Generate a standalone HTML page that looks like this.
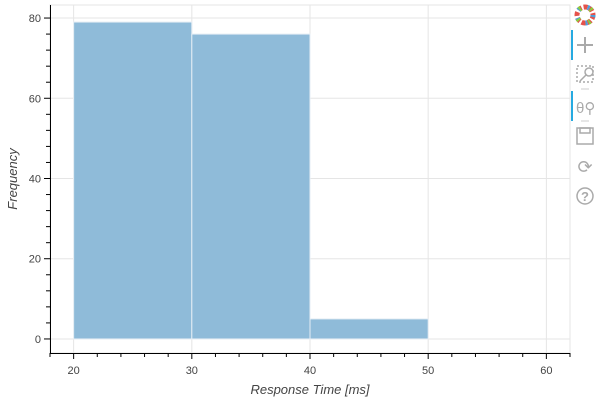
<!DOCTYPE html>
<html><head><meta charset="utf-8"><style>
body{margin:0;background:#fff;width:600px;height:400px;overflow:hidden;font-family:"Liberation Sans",sans-serif}
</style></head><body>
<svg id="chart" width="600" height="400" xmlns="http://www.w3.org/2000/svg">
<g id="gridlayer"></g>
<g id="barlayer"></g>
<g id="axislayer"></g>
<text x="310" y="394" text-anchor="middle" font-size="13" font-style="italic" fill="#444">Response Time [ms]</text>
<text transform="translate(17,179) rotate(-90)" text-anchor="middle" font-size="13" font-style="italic" fill="#444">Frequency</text>
<g>
<line x1="572" y1="30" x2="572" y2="60" stroke="#26aae1" stroke-width="2"/>
<line x1="572" y1="91" x2="572" y2="121" stroke="#26aae1" stroke-width="2"/>
<g transform="translate(585,15)">
<circle r="8" fill="none" stroke="#e5524b" stroke-width="5" stroke-dasharray="4 2"/>
<circle r="8" fill="none" stroke="#4aa1dd" stroke-width="5" stroke-dasharray="2 8"/>
<circle r="8" fill="none" stroke="#8ccf3c" stroke-width="5" stroke-dasharray="2 10" stroke-dashoffset="5"/>
</g>
<g stroke="#aaa" stroke-width="2" fill="none"><line x1="577" y1="45" x2="593" y2="45"/><line x1="585" y1="37" x2="585" y2="53"/></g>
<g stroke="#aaa" fill="none" stroke-width="1.5"><rect x="577" y="66" width="16" height="16" stroke-dasharray="2 2"/><circle cx="589" cy="72" r="4"/><line x1="586" y1="75" x2="580" y2="81"/></g>
<line x1="581" y1="89" x2="589" y2="89" stroke="#ccc"/>
<text x="576" y="113" font-size="15" fill="#aaa">θ⚲</text>
<line x1="581" y1="121" x2="589" y2="121" stroke="#ccc"/>
<g stroke="#aaa" fill="none" stroke-width="1.5"><rect x="577" y="128" width="16" height="16"/><rect x="580" y="128" width="10" height="5"/></g>
<text x="585" y="173" font-size="18" fill="#aaa" text-anchor="middle">⟳</text>
<g><circle cx="585" cy="196" r="8" fill="none" stroke="#aaa" stroke-width="1.5"/><text x="585" y="201" font-size="13" fill="#aaa" text-anchor="middle" font-weight="bold">?</text></g>
</g>
</svg>
<script>
var binEdges=[20,30,40,50];
var counts=[79,76,5];
var xTicks=[20,30,40,50,60];
var yTicks=[0,20,40,60,80];
var PL=50,PR=570,PT=5,PB=353,xmin=18,xmax=62,ymin=-3.5,ymax=83.25;
function sx(v){return PL+(v-xmin)/(xmax-xmin)*(PR-PL);}
function sy(v){return PB-(v-ymin)/(ymax-ymin)*(PB-PT);}
var SVGNS="http://www.w3.org/2000/svg";
function mk(tag,attrs,parent){var e=document.createElementNS(SVGNS,tag);Object.keys(attrs).forEach(function(k){e.setAttribute(k,String(attrs[k]));});parent.appendChild(e);return e;}
var gGrid=document.getElementById('gridlayer'),gBars=document.getElementById('barlayer'),gAxes=document.getElementById('axislayer');
mk('rect',{x:PL,y:PT,width:PR-PL,height:PB-PT,fill:'none',stroke:'#e5e5e5'},gGrid);
for(var i=0;i<xTicks.length;i++){var gl=mk('line',{x1:sx(xTicks[i]),x2:sx(xTicks[i]),y1:PT,y2:PB,stroke:'#e5e5e5'},gGrid);

}
for(var i=0;i<yTicks.length;i++){var gl2=mk('line',{x1:PL,x2:PR,y1:sy(yTicks[i]),y2:sy(yTicks[i]),stroke:'#e5e5e5'},gGrid);

}
for(var i=0;i<counts.length;i++){
var x0=sx(binEdges[i]),x1=sx(binEdges[i+1]),y0=sy(counts[i]),yb=sy(0);
var bar=mk('rect',{x:x0,y:y0,width:x1-x0,height:yb-y0,fill:'#8fbbd9',stroke:'#e6eef5'},gBars);

}
mk('line',{x1:PL,x2:PR,y1:PB+0.5,y2:PB+0.5,stroke:'#000'},gAxes);
mk('line',{x1:PL+0.5,x2:PL+0.5,y1:PT,y2:PB,stroke:'#000'},gAxes);
for(var v=18;v<=62;v+=2){mk('line',{x1:sx(v),x2:sx(v),y1:PB,y2:PB+(v%10==0?6:4),stroke:'#000'},gAxes);}
for(var v=0;v<=83;v+=4){mk('line',{x1:PL,x2:PL-(v%20==0?6:4),y1:sy(v),y2:sy(v),stroke:'#000'},gAxes);}
for(var i=0;i<xTicks.length;i++){var tx=mk('text',{x:sx(xTicks[i]),y:PB+21,'text-anchor':'middle','font-size':11,fill:'#444'},gAxes);tx.textContent=String(xTicks[i]);

}
for(var i=0;i<yTicks.length;i++){var ty=mk('text',{x:PL-9,y:sy(yTicks[i])+4,'text-anchor':'end','font-size':11,fill:'#444'},gAxes);ty.textContent=String(yTicks[i]);

}
</script>
</body></html>
